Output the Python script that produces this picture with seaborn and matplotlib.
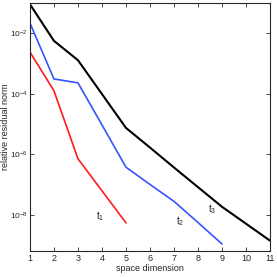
"""
Relative residual norm vs space dimension for t1, t2, t3.
"""

import numpy as np
import pandas as pd
import matplotlib
matplotlib.use("Agg")
import matplotlib.pyplot as plt
import seaborn as sns

# Data (log10 of relative residual norm)
dims_t1 = [1, 2, 3, 4, 5]
log_t1 = [-2.62, -3.90, -6.15, -7.21, -8.27]

dims_t2 = [1, 2, 3, 4, 5, 6, 7, 8, 9]
log_t2 = [-1.66, -3.51, -3.64, -5.03, -6.43, -7.00, -7.56, -8.26, -8.97]

dims_t3 = [1, 2, 3, 4, 5, 6, 7, 8, 9, 10, 11]
log_t3 = [-1.04, -2.25, -2.89, -4.01, -5.13, -5.78, -6.44, -7.09, -7.74, -8.30, -8.86]

series_names = ["t1", "t2", "t3"]
series_colors = {"t1": "#ff1a1a", "t2": "#3355ff", "t3": "#000000"}
xticks = list(range(1, 12))
yticks = [1e-8, 1e-6, 1e-4, 1e-2]

frames = []
for name, dims, vals in [("t1", dims_t1, log_t1), ("t2", dims_t2, log_t2), ("t3", dims_t3, log_t3)]:
    frames.append(pd.DataFrame({"dim": dims, "norm": 10.0 ** np.array(vals), "series": name}))
df = pd.concat(frames, ignore_index=True)

sns.set_style("ticks")
plt.rcParams["font.family"] = ["Liberation Sans", "DejaVu Sans"]
plt.rcParams["mathtext.fontset"] = "custom"
plt.rcParams["mathtext.rm"] = "Liberation Sans"

fig = plt.figure(figsize=(2.77, 2.77), dpi=100)
ax = fig.add_axes([0.108, 0.094, 0.867, 0.895])

for name in series_names:
    sub = df[df["series"] == name]
    lw = 1.5 if name == "t3" else 1.2
    sns.lineplot(data=sub, x="dim", y="norm", ax=ax, color=series_colors[name],
                 linewidth=lw, legend=False)

ax.set_yscale("log")
ax.set_xlim(1, 11)
ax.set_ylim(10 ** -9.2, 10 ** -1.0)
ax.set_xticks(xticks)
ax.set_xticklabels([str(t) for t in xticks])
ax.set_yticks(yticks)
ax.yaxis.set_minor_locator(matplotlib.ticker.NullLocator())
ax.tick_params(direction="in", length=3, width=0.6, labelsize=6.5, pad=2,
               top=True, right=True)
ax.tick_params(axis="y", labelsize=6, pad=1.5)
for s in ax.spines.values():
    s.set_linewidth(0.8)

ax.set_xlabel("space dimension", fontsize=6.5, labelpad=1)
ax.set_ylabel("relative residual norm", fontsize=6.5)
ax.yaxis.set_label_coords(-0.082, 0.5)

ax.text(3.92, 10 ** -8.06, r"$\mathrm{t}_1$", fontsize=7, ha="center", va="center")
ax.text(7.25, 10 ** -8.22, r"$\mathrm{t}_2$", fontsize=7, ha="center", va="center")
ax.text(8.57, 10 ** -7.80, r"$\mathrm{t}_3$", fontsize=7, ha="center", va="center")

fig.savefig("out.png", dpi=100)
plt.close(fig)
